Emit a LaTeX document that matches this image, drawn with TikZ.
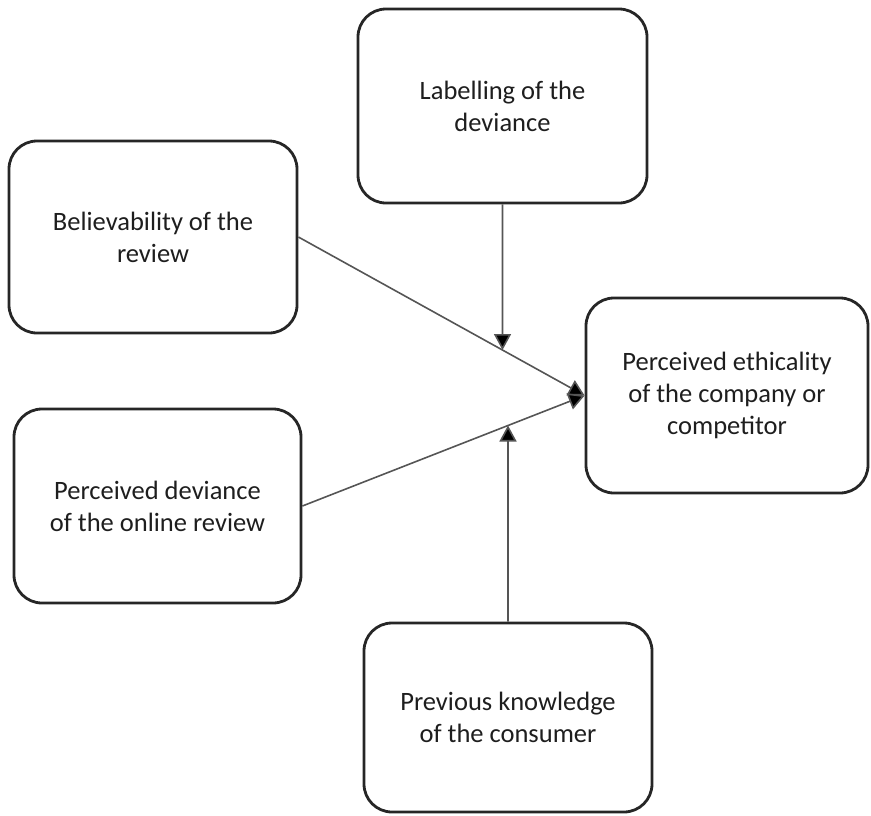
\documentclass[tikz,border=0pt]{standalone}
\usepackage{fontspec}
\setmainfont{Carlito}
\usetikzlibrary{arrows.meta,intersections}
\definecolor{boxline}{HTML}{262626}
\definecolor{connline}{HTML}{555555}
\definecolor{txt}{HTML}{1E1E1E}
\begin{document}
\begin{tikzpicture}[x=1pt,y=-1pt,
  factor/.style={draw=boxline, line width=2.8pt, rounded corners=28pt, fill=white,
    align=center, text=txt, inner sep=0pt,
    font=\fontsize{26.5}{32}\selectfont},
  conn/.style={draw=connline, line width=1.6pt,
    -{Triangle[length=16pt,width=17pt,fill=black]}}]
  \useasboundingbox (0,0) rectangle (871,815);
  % factor boxes
  \node[factor, minimum width=288pt, minimum height=192pt] (bel) at (153,237)
    {Believability of the\\review};
  \node[factor, minimum width=289pt, minimum height=194pt] (lab) at (502.5,106)
    {Labelling of the\\deviance};
  \node[factor, minimum width=282pt, minimum height=195pt] (eth) at (727,395.5)
    {Perceived ethicality\\of the company or\\competitor};
  \node[factor, minimum width=287pt, minimum height=194pt] (dev) at (157.5,506)
    {Perceived deviance\\of the online review};
  \node[factor, minimum width=288pt, minimum height=189pt] (prev) at (508,717.5)
    {Previous knowledge\\of the consumer};
  % main paths into the outcome
  \draw[conn, name path=d1] (bel.east) -- (eth.west);
  \draw[conn, name path=d2] (dev.east) -- (eth.west);
  % moderators meeting the main paths
  \path[name path=v1] (lab.south) -- (lab.south |- eth.south);
  \path[name path=v2] (prev.north) -- (prev.north |- lab.south);
  \path[name intersections={of=d1 and v1, by=j1}];
  \path[name intersections={of=d2 and v2, by=j2}];
  \draw[conn] (lab.south) -- (j1);
  \draw[conn] (prev.north) -- (j2);
\end{tikzpicture}
\end{document}
